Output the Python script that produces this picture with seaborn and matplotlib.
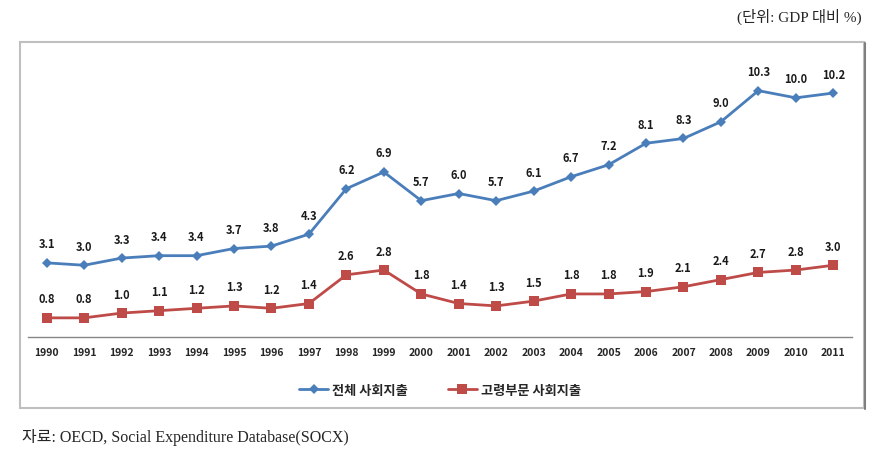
import matplotlib
matplotlib.use("Agg")
import matplotlib.pyplot as plt
import matplotlib.patches as patches
import seaborn as sns
import pandas as pd

years = list(range(1990, 2012))
total = [3.1, 3.0, 3.3, 3.4, 3.4, 3.7, 3.8, 4.3, 6.2, 6.9, 5.7,
         6.0, 5.7, 6.1, 6.7, 7.2, 8.1, 8.3, 9.0, 10.3, 10.0, 10.2]
elderly = [0.8, 0.8, 1.0, 1.1, 1.2, 1.3, 1.2, 1.4, 2.6, 2.8, 1.8,
           1.4, 1.3, 1.5, 1.8, 1.8, 1.9, 2.1, 2.4, 2.7, 2.8, 3.0]
series_names = ["전체 사회지출", "고령부문 사회지출"]
unit_text = "(단위: GDP 대비 %)"
source_text = "자료: OECD, Social Expenditure Database(SOCX)"

sns.set_theme(style="white")
plt.rcParams['font.family'] = ['Noto Sans CJK KR', 'DejaVu Sans']

df = pd.DataFrame({"year": years, series_names[0]: total, series_names[1]: elderly})

W, H = 885, 464
fig = plt.figure(figsize=(W / 100, H / 100), dpi=100)
ax = fig.add_axes([28 / W, 1 - 338 / H, (852 - 28) / W, (338 - 51) / H])

blue = "#4A7EBB"
red = "#BE4B48"
sns.lineplot(data=df, x="year", y=series_names[0], ax=ax, color=blue, marker="D",
             markersize=5, linewidth=2, markeredgewidth=0, label=series_names[0])
sns.lineplot(data=df, x="year", y=series_names[1], ax=ax, color=red, marker="s",
             markersize=7.5, linewidth=2, markeredgewidth=0, label=series_names[1])

for x, v in zip(years, total):
    ax.annotate(f"{v:.1f}", (x, v), xytext=(0, 9), textcoords="offset points",
                ha="center", va="bottom", fontsize=8, fontweight="bold", color="#1a1a1a")
for x, v in zip(years, elderly):
    ax.annotate(f"{v:.1f}", (x, v), xytext=(0, 9), textcoords="offset points",
                ha="center", va="bottom", fontsize=8, fontweight="bold", color="#1a1a1a")

ax.set_xlim(1989.5, 2011.5)
ax.set_ylim(0, 12)
ax.set_xticks(years)
ax.set_xticklabels([str(y) for y in years], fontsize=7.5, fontweight="bold")
ax.tick_params(axis="x", length=0, pad=7)
ax.set_yticks([])
ax.set_xlabel("")
ax.set_ylabel("")
for s in ["top", "right", "left"]:
    ax.spines[s].set_visible(False)
ax.spines["bottom"].set_color("#868686")
ax.spines["bottom"].set_linewidth(1)
ax.patch.set_alpha(0)

ax.legend_.remove()
handles, labels = ax.get_legend_handles_labels()
leg = fig.legend(handles, labels, loc="center", bbox_to_anchor=(440 / W, 1 - 391 / H),
                 ncol=2, frameon=False, prop={"weight": "bold", "size": 9.5},
                 handlelength=2.2, columnspacing=3, handletextpad=0.3)

# chart frame
fig.patches.append(patches.Rectangle((20 / W, 1 - 409 / H), (864 - 20) / W, (409 - 43) / H,
                                     transform=fig.transFigure, fill=False,
                                     edgecolor="#BFBFBF", linewidth=1.5, zorder=0))
fig.add_artist(plt.Line2D([865 / W, 865 / W], [1 - 410 / H, 1 - 44 / H],
                          transform=fig.transFigure, color="#7F7F7F", linewidth=1.5))

fig.text(862 / W, 1 - 17 / H, unit_text, ha="right", va="center", fontsize=11,
         family=['Liberation Serif', 'Noto Sans CJK KR'])
fig.text(22 / W, 1 - 438 / H, source_text, ha="left", va="center", fontsize=11.5,
         family=['Liberation Serif', 'Noto Sans CJK KR'])

fig.savefig("out.png", dpi=100)
